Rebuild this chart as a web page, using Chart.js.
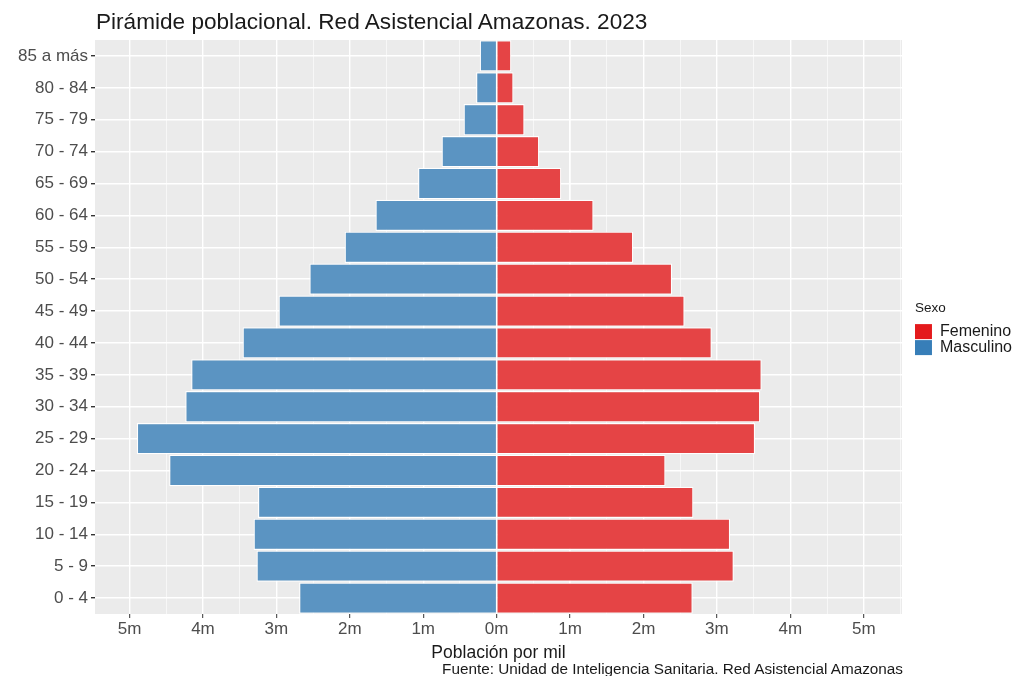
<!DOCTYPE html>
<html lang="es">
<head>
<meta charset="utf-8">
<title>Pirámide poblacional</title>
<script src="https://cdn.jsdelivr.net/npm/chart.js@4.4.1/dist/chart.umd.min.js"></script>
<style>
  html, body { margin: 0; padding: 0; background: #fff; }
  #wrap { position: relative; width: 1016px; height: 676px; font-family: "Liberation Sans", Arial, sans-serif; }
  #titulo { position: absolute; left: 96px; top: 11px; font-size: 22.6px; line-height: 1; color: #1a1a1a; white-space: nowrap; }
  #fuente { position: absolute; right: 113px; top: 661px; font-size: 15.3px; line-height: 1; color: #1a1a1a; white-space: nowrap; }
  #piramide { position: absolute; left: 0; top: 0; }
</style>
</head>
<body>
<div id="wrap">
  <canvas id="piramide" width="1016" height="676"></canvas>
  <div id="titulo">Pirámide poblacional. Red Asistencial Amazonas. 2023</div>
  <div id="fuente">Fuente: Unidad de Inteligencia Sanitaria. Red Asistencial Amazonas</div>
</div>
<script>
// Grupos de edad (de abajo hacia arriba)
const gruposEdad = ['0 - 4', '5 - 9', '10 - 14', '15 - 19', '20 - 24', '25 - 29', '30 - 34', '35 - 39',
  '40 - 44', '45 - 49', '50 - 54', '55 - 59', '60 - 64', '65 - 69', '70 - 74', '75 - 79', '80 - 84', '85 a más'];

// Población por mil
const masculino = [2.69, 3.27, 3.31, 3.25, 4.46, 4.90, 4.24, 4.16, 3.46, 2.97, 2.55, 2.07, 1.65, 1.07, 0.75, 0.45, 0.28, 0.23];
const femenino = [2.67, 3.23, 3.18, 2.68, 2.30, 3.52, 3.59, 3.61, 2.93, 2.56, 2.39, 1.86, 1.32, 0.88, 0.58, 0.38, 0.23, 0.20];

// Etiquetas del eje x, de -5 a 5
const valoresX = [-5, -4, -3, -2, -1, 0, 1, 2, 3, 4, 5];
const etiquetasX = ['5m', '4m', '3m', '2m', '1m', '0m', '1m', '2m', '3m', '4m', '5m'];

// Colores (Set1 sobre fondo gris)
const rojo = 'rgb(229, 68, 69)';
const azul = 'rgb(91, 148, 194)';
const clavesLeyenda = ['#E41A1C', '#377EB8'];

// límites del panel (rango no múltiplo del paso, para que los ticks caigan en enteros)
const xMin = -5.47;
const xMax = 5.52;

Chart.defaults.font.family = '"Liberation Sans", Arial, sans-serif';

/**
 * Fondo gris del panel, estilo ggplot
 */
const fondoPanel = {
  id: 'fondoPanel',
  beforeDraw(chart) {
    const {ctx, chartArea} = chart;
    ctx.save();
    ctx.fillStyle = '#EBEBEB';
    ctx.fillRect(chartArea.left, chartArea.top, chartArea.right - chartArea.left, chartArea.bottom - chartArea.top);
    ctx.restore();
  }
};

new Chart(document.getElementById('piramide'), {
  type: 'bar',
  data: {
    labels: gruposEdad,
    datasets: [
      {
        label: 'Femenino',
        data: femenino,
        backgroundColor: rojo,
        borderColor: '#ffffff',
        borderWidth: 1.2,
        borderSkipped: 'start',
        barPercentage: 0.98,
        categoryPercentage: 1
      },
      {
        label: 'Masculino',
        data: masculino.map(v => -v),
        backgroundColor: azul,
        borderColor: '#ffffff',
        borderWidth: 1.2,
        borderSkipped: 'start',
        barPercentage: 0.98,
        categoryPercentage: 1
      }
    ]
  },
  options: {
    indexAxis: 'y',
    responsive: false,
    animation: false,
    layout: { padding: { top: 40, left: 0, right: -6, bottom: 12.6 } },
    plugins: {
      tooltip: { enabled: false },
      legend: {
        position: 'right',
        align: 'center',
        fullSize: false,
        title: {
          display: true,
          text: 'Sexo',
          position: 'start',
          color: '#1a1a1a',
          font: { size: 13.5 },
          padding: { top: 3, bottom: 6 }
        },
        labels: {
          boxWidth: 17,
          boxHeight: 15,
          padding: 0,
          color: '#1a1a1a',
          font: { size: 16 },
          generateLabels(chart) {
            const items = Chart.defaults.plugins.legend.labels.generateLabels(chart);
            items.forEach((item, i) => {
              item.fillStyle = clavesLeyenda[i];
              item.strokeStyle = clavesLeyenda[i];
              item.lineWidth = 0;
            });
            return items;
          }
        }
      }
    },
    scales: {
      x: {
        stacked: true,
        min: xMin,
        max: xMax,
        border: { display: false },
        grid: {
          color: '#ffffff',
          lineWidth: 1.4,
          tickColor: '#333333',
          tickLength: 4,
          tickWidth: 1
        },
        ticks: {
          stepSize: 1,
          includeBounds: false,
          autoSkip: false,
          maxRotation: 0,
          padding: 1,
          color: '#4D4D4D',
          font: { size: 17 },
          callback: (v) => {
            const i = valoresX.indexOf(Math.round(v));
            return i >= 0 ? etiquetasX[i] : '';
          }
        },
        title: {
          display: true,
          text: 'Población por mil',
          color: '#1a1a1a',
          font: { size: 17.5 },
          padding: { top: 2, bottom: 0 }
        }
      },
      // líneas menores de la rejilla, cada 0.5
      xMenor: {
        type: 'linear',
        position: 'bottom',
        min: xMin,
        max: xMax,
        border: { display: false },
        grid: {
          color: '#ffffff',
          lineWidth: 0.6,
          drawTicks: false
        },
        ticks: {
          display: false,
          stepSize: 0.5,
          includeBounds: false
        },
        afterFit(scale) { scale.height = 0; }
      },
      y: {
        stacked: true,
        reverse: true,
        border: { display: false },
        grid: {
          offset: false,
          color: '#ffffff',
          lineWidth: 1.4,
          tickColor: '#333333',
          tickLength: 4
        },
        ticks: {
          padding: 3,
          color: '#4D4D4D',
          font: { size: 17 }
        },
        afterFit(scale) { scale.width = 95; }
      },
      // eje vacío: solo deja espacio entre el panel y la leyenda
      hueco: {
        type: 'linear',
        position: 'right',
        display: true,
        border: { display: false },
        grid: { display: false },
        ticks: { display: false },
        afterFit(scale) { scale.width = 13; }
      }
    }
  },
  plugins: [fondoPanel]
});
</script>
</body>
</html>
